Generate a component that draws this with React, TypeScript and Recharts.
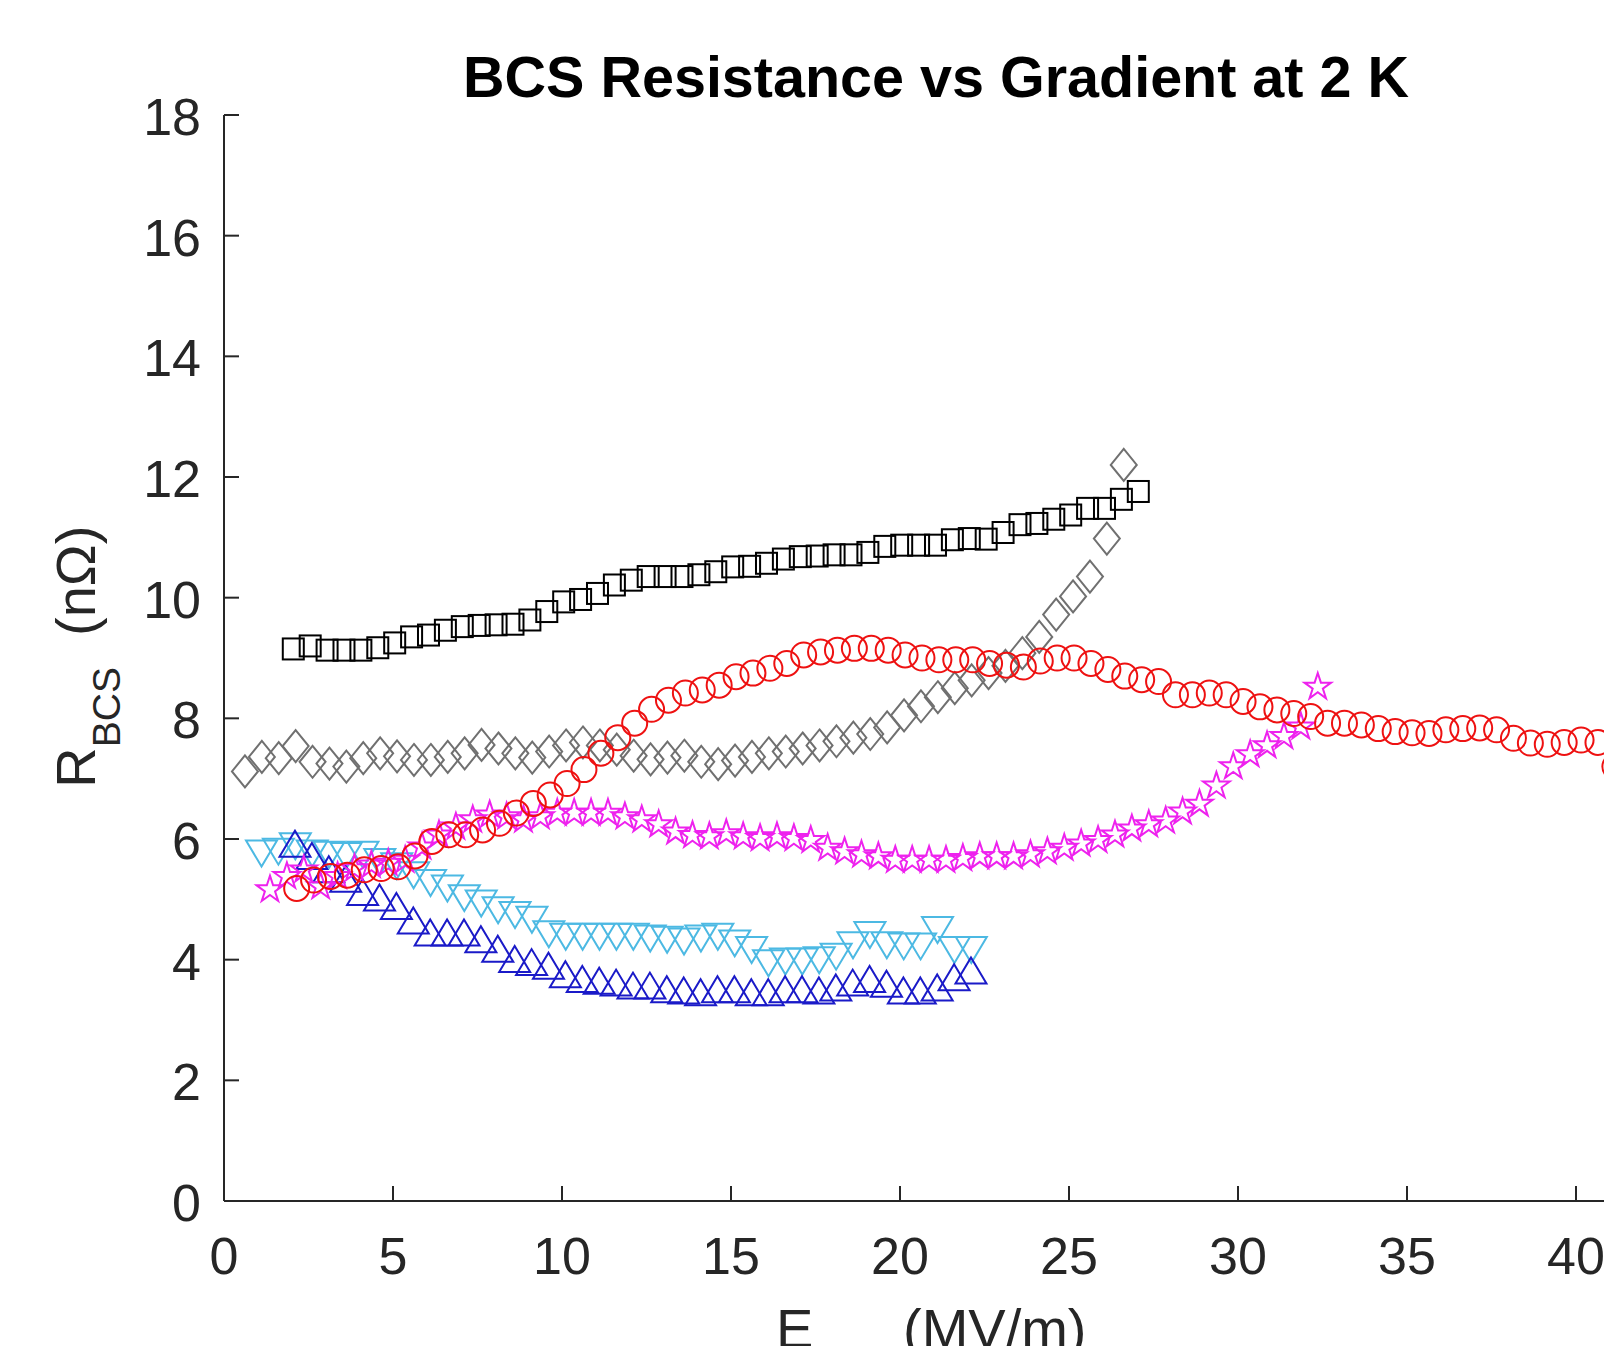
import React from 'react';
import { ScatterChart, Scatter, XAxis, YAxis } from 'recharts';

// ---------- data ----------
const xTicks = [0, 5, 10, 15, 20, 25, 30, 35, 40];
const yTicks = [0, 2, 4, 6, 8, 10, 12, 14, 16, 18];

const squaresX = [2.05, 2.55, 3.05, 3.55, 4.05, 4.55, 5.05, 5.55, 6.05, 6.55, 7.05, 7.55, 8.05, 8.55, 9.05, 9.55, 10.05, 10.55, 11.05, 11.55, 12.05, 12.55, 13.05, 13.55, 14.05, 14.55, 15.05, 15.55, 16.05, 16.55, 17.05, 17.55, 18.05, 18.55, 19.05, 19.55, 20.05, 20.55, 21.05, 21.55, 22.05, 22.55, 23.05, 23.55, 24.05, 24.55, 25.05, 25.55, 26.05, 26.55, 27.05];
const squaresY = [9.15, 9.2, 9.13, 9.13, 9.13, 9.17, 9.25, 9.35, 9.38, 9.46, 9.52, 9.54, 9.55, 9.56, 9.63, 9.77, 9.93, 9.97, 10.07, 10.21, 10.29, 10.35, 10.35, 10.35, 10.38, 10.43, 10.51, 10.52, 10.57, 10.64, 10.68, 10.69, 10.71, 10.71, 10.75, 10.85, 10.87, 10.87, 10.87, 10.96, 10.98, 10.97, 11.08, 11.21, 11.23, 11.3, 11.37, 11.48, 11.48, 11.63, 11.76];

const diamondsX = [0.62, 1.12, 1.62, 2.12, 2.62, 3.12, 3.62, 4.12, 4.62, 5.12, 5.62, 6.12, 6.62, 7.12, 7.62, 8.12, 8.62, 9.12, 9.62, 10.12, 10.62, 11.12, 11.62, 12.12, 12.62, 13.12, 13.62, 14.12, 14.62, 15.12, 15.62, 16.12, 16.62, 17.12, 17.62, 18.12, 18.62, 19.12, 19.62, 20.12, 20.62, 21.12, 21.62, 22.12, 22.62, 23.12, 23.62, 24.12, 24.62, 25.12, 25.62, 26.12, 26.62];
const diamondsY = [7.12, 7.36, 7.34, 7.54, 7.28, 7.25, 7.2, 7.34, 7.42, 7.37, 7.31, 7.31, 7.36, 7.42, 7.56, 7.5, 7.42, 7.35, 7.45, 7.55, 7.6, 7.55, 7.48, 7.38, 7.32, 7.35, 7.38, 7.28, 7.24, 7.3, 7.36, 7.42, 7.45, 7.5, 7.55, 7.62, 7.68, 7.74, 7.85, 8.05, 8.2, 8.35, 8.5, 8.63, 8.75, 8.87, 9.08, 9.35, 9.72, 10.02, 10.35, 10.98, 12.2];

const circlesX = [2.15, 2.65, 3.15, 3.65, 4.15, 4.65, 5.15, 5.65, 6.15, 6.65, 7.15, 7.65, 8.15, 8.65, 9.15, 9.65, 10.15, 10.65, 11.15, 11.65, 12.15, 12.65, 13.15, 13.65, 14.15, 14.65, 15.15, 15.65, 16.15, 16.65, 17.15, 17.65, 18.15, 18.65, 19.15, 19.65, 20.15, 20.65, 21.15, 21.65, 22.15, 22.65, 23.15, 23.65, 24.15, 24.65, 25.15, 25.65, 26.15, 26.65, 27.15, 27.65, 28.15, 28.65, 29.15, 29.65, 30.15, 30.65, 31.15, 31.65, 32.15, 32.65, 33.15, 33.65, 34.15, 34.65, 35.15, 35.65, 36.15, 36.65, 37.15, 37.65, 38.15, 38.65, 39.15, 39.65, 40.15, 40.65, 41.15];
const circlesY = [5.18, 5.32, 5.38, 5.4, 5.49, 5.51, 5.54, 5.72, 5.96, 6.07, 6.07, 6.15, 6.26, 6.43, 6.59, 6.73, 6.92, 7.15, 7.42, 7.68, 7.92, 8.15, 8.3, 8.42, 8.47, 8.55, 8.69, 8.75, 8.83, 8.91, 9.05, 9.1, 9.13, 9.16, 9.16, 9.13, 9.05, 9.0, 8.97, 8.97, 8.97, 8.91, 8.88, 8.85, 8.95, 9.0, 9.0, 8.91, 8.81, 8.7, 8.64, 8.61, 8.39, 8.39, 8.42, 8.39, 8.28, 8.19, 8.14, 8.08, 8.03, 7.92, 7.92, 7.89, 7.83, 7.78, 7.76, 7.75, 7.81, 7.83, 7.84, 7.81, 7.67, 7.59, 7.57, 7.6, 7.64, 7.6, 7.2];

const starsX = [1.36, 1.86, 2.36, 2.86, 3.36, 3.86, 4.36, 4.86, 5.36, 5.86, 6.36, 6.86, 7.36, 7.86, 8.36, 8.86, 9.36, 9.86, 10.36, 10.86, 11.36, 11.86, 12.36, 12.86, 13.36, 13.86, 14.36, 14.86, 15.36, 15.86, 16.36, 16.86, 17.36, 17.86, 18.36, 18.86, 19.36, 19.86, 20.36, 20.86, 21.36, 21.86, 22.36, 22.86, 23.36, 23.86, 24.36, 24.86, 25.36, 25.86, 26.36, 26.86, 27.36, 27.86, 28.36, 28.86, 29.36, 29.86, 30.36, 30.86, 31.36, 31.86, 32.36];
const starsY = [5.16, 5.38, 5.49, 5.21, 5.38, 5.51, 5.57, 5.6, 5.65, 5.87, 6.07, 6.2, 6.32, 6.4, 6.37, 6.32, 6.37, 6.43, 6.43, 6.43, 6.43, 6.37, 6.32, 6.24, 6.12, 6.06, 6.04, 6.09, 6.04, 6.01, 6.04, 6.01, 5.98, 5.85, 5.79, 5.74, 5.71, 5.65, 5.65, 5.65, 5.65, 5.68, 5.71, 5.71, 5.71, 5.74, 5.79, 5.85, 5.92, 5.98, 6.07, 6.17, 6.24, 6.3, 6.45, 6.58, 6.88, 7.2, 7.4, 7.55, 7.7, 7.86, 8.52];

const downTriX = [1.11, 1.61, 2.11, 2.61, 3.11, 3.61, 4.11, 4.61, 5.11, 5.61, 6.11, 6.61, 7.11, 7.61, 8.11, 8.61, 9.11, 9.61, 10.11, 10.61, 11.11, 11.61, 12.11, 12.61, 13.11, 13.61, 14.11, 14.61, 15.11, 15.61, 16.11, 16.61, 17.11, 17.61, 18.11, 18.61, 19.11, 19.61, 20.11, 20.61, 21.11, 21.61, 22.11];
const downTriY = [5.76, 5.79, 5.88, 5.76, 5.74, 5.72, 5.74, 5.62, 5.55, 5.4, 5.27, 5.18, 5.02, 4.93, 4.82, 4.74, 4.66, 4.42, 4.38, 4.38, 4.38, 4.38, 4.38, 4.35, 4.33, 4.3, 4.35, 4.38, 4.27, 4.16, 3.94, 3.97, 3.97, 3.99, 4.05, 4.24, 4.41, 4.24, 4.22, 4.22, 4.49, 4.16, 4.16];

const upTriX = [2.1, 2.6, 3.1, 3.6, 4.1, 4.6, 5.1, 5.6, 6.1, 6.6, 7.1, 7.6, 8.1, 8.6, 9.1, 9.6, 10.1, 10.6, 11.1, 11.6, 12.1, 12.6, 13.1, 13.6, 14.1, 14.6, 15.1, 15.6, 16.1, 16.6, 17.1, 17.6, 18.1, 18.6, 19.1, 19.6, 20.1, 20.6, 21.1, 21.6, 22.1];
const upTriY = [5.92, 5.72, 5.5, 5.34, 5.12, 5.03, 4.89, 4.65, 4.45, 4.45, 4.45, 4.34, 4.18, 4.01, 3.96, 3.9, 3.76, 3.68, 3.65, 3.62, 3.57, 3.57, 3.51, 3.49, 3.46, 3.51, 3.51, 3.46, 3.46, 3.51, 3.51, 3.49, 3.54, 3.62, 3.68, 3.6, 3.49, 3.49, 3.54, 3.71, 3.82];

// ---------- styling ----------
const FONT = '"Liberation Sans", Arial, Helvetica, sans-serif';
const AXIS_COLOR = '#262626';
const C_BLACK = '#000000';
const C_GRAY = '#707070';
const C_RED = '#ee1111';
const C_MAGENTA = '#ee22ee';
const C_CYAN = '#4cb9e3';
const C_BLUE = '#1a1ac8';
const SW = 2;

const toPoints = (xs: number[], ys: number[]) => xs.map((x, i) => ({ x, y: ys[i] }));

const squareShape = (p: any) => (
  <rect x={p.cx - 10.5} y={p.cy - 10.5} width={21} height={21} fill="none" stroke={C_BLACK} strokeWidth={SW} />
);
const diamondShape = (p: any) => (
  <polygon
    points={`${p.cx},${p.cy - 16} ${p.cx + 13},${p.cy} ${p.cx},${p.cy + 16} ${p.cx - 13},${p.cy}`}
    fill="none" stroke={C_GRAY} strokeWidth={SW} />
);
const circleShape = (p: any) => (
  <circle cx={p.cx} cy={p.cy} r={12.5} fill="none" stroke={C_RED} strokeWidth={SW} />
);
const starShape = (p: any) => {
  const R = 14;
  const r = R * 0.382;
  const pts: string[] = [];
  for (let k = 0; k < 10; k++) {
    const rad = k % 2 === 0 ? R : r;
    const a = -Math.PI / 2 + (k * Math.PI) / 5;
    pts.push(`${p.cx + rad * Math.cos(a)},${p.cy + rad * Math.sin(a)}`);
  }
  return <polygon points={pts.join(' ')} fill="none" stroke={C_MAGENTA} strokeWidth={SW} />;
};
const downTriShape = (p: any) => (
  <polygon
    points={`${p.cx - 15.5},${p.cy - 13} ${p.cx + 15.5},${p.cy - 13} ${p.cx},${p.cy + 13}`}
    fill="none" stroke={C_CYAN} strokeWidth={SW} />
);
const upTriShape = (p: any) => (
  <polygon
    points={`${p.cx - 15.5},${p.cy + 13} ${p.cx + 15.5},${p.cy + 13} ${p.cx},${p.cy - 13}`}
    fill="none" stroke={C_BLUE} strokeWidth={SW} />
);

const XTick = (props: any) => {
  const { x, y, payload } = props;
  return (
    <g>
      <line x1={x} y1={y} x2={x} y2={y - 15} stroke={AXIS_COLOR} strokeWidth={2} />
      <text x={x} y={y + 73} textAnchor="middle" fontSize={52} fontFamily={FONT} fill={AXIS_COLOR}>
        {payload.value}
      </text>
    </g>
  );
};

const YTick = (props: any) => {
  const { x, y, payload } = props;
  return (
    <g>
      <line x1={x} y1={y} x2={x + 15} y2={y} stroke={AXIS_COLOR} strokeWidth={2} />
      <text x={x - 23} y={y + 20} textAnchor="end" fontSize={52} fontFamily={FONT} fill={AXIS_COLOR}>
        {payload.value}
      </text>
    </g>
  );
};

export default function App() {
  return (
    <div style={{ position: 'absolute', left: 0, top: 0, width: 1604, height: 1346, overflow: 'hidden', background: '#ffffff' }}>
      <div style={{ position: 'absolute', left: 0, top: 0 }}>
        <ScatterChart width={1700} height={1400} margin={{ top: 115, right: 56.4, bottom: 99, left: 0 }}>
          <XAxis
            type="number"
            dataKey="x"
            domain={[0, 42]}
            ticks={xTicks}
            interval={0}
            allowDataOverflow
            height={100}
            tickSize={0}
            tickMargin={0}
            tickLine={false}
            axisLine={{ stroke: AXIS_COLOR, strokeWidth: 2 }}
            tick={<XTick />}
          />
          <YAxis
            type="number"
            dataKey="y"
            domain={[0, 18]}
            ticks={yTicks}
            interval={0}
            allowDataOverflow
            width={224}
            tickSize={0}
            tickMargin={0}
            tickLine={false}
            axisLine={{ stroke: AXIS_COLOR, strokeWidth: 2 }}
            tick={<YTick />}
          />
          <Scatter name="squares" data={toPoints(squaresX, squaresY)} shape={squareShape} isAnimationActive={false} />
          <Scatter name="diamonds" data={toPoints(diamondsX, diamondsY)} shape={diamondShape} isAnimationActive={false} />
          <Scatter name="downTri" data={toPoints(downTriX, downTriY)} shape={downTriShape} isAnimationActive={false} />
          <Scatter name="upTri" data={toPoints(upTriX, upTriY)} shape={upTriShape} isAnimationActive={false} />
          <Scatter name="stars" data={toPoints(starsX, starsY)} shape={starShape} isAnimationActive={false} />
          <Scatter name="circles" data={toPoints(circlesX, circlesY)} shape={circleShape} isAnimationActive={false} />
        </ScatterChart>
      </div>
      <svg width={1604} height={1346} style={{ position: 'absolute', left: 0, top: 0, pointerEvents: 'none' }}>
        <text x={936} y={96.5} textAnchor="middle" fontSize={57.5} fontWeight="bold" fontFamily={FONT} fill="#000000">
          BCS Resistance vs Gradient at 2 K
        </text>
        <g transform="translate(95, 667) rotate(-90)">
          <text x={0} y={0} textAnchor="end" fontFamily={FONT} fill={AXIS_COLOR}>
            <tspan fontSize={56}>R</tspan>
            <tspan fontSize={39} dy={25}>BCS</tspan>
          </text>
        </g>
        <g transform="translate(95, 636) rotate(-90)">
          <text x={0} y={0} textAnchor="start" fontSize={56} fontFamily={FONT} fill={AXIS_COLOR}>(nΩ)</text>
        </g>
        <text y={1348} fontFamily={FONT} fill={AXIS_COLOR}>
          <tspan x={776} fontSize={56}>E</tspan>
          <tspan fontSize={39} dy={25}>acc</tspan>
          <tspan x={903} dy={-25} fontSize={56}>(MV/m)</tspan>
        </text>
      </svg>
    </div>
  );
}
